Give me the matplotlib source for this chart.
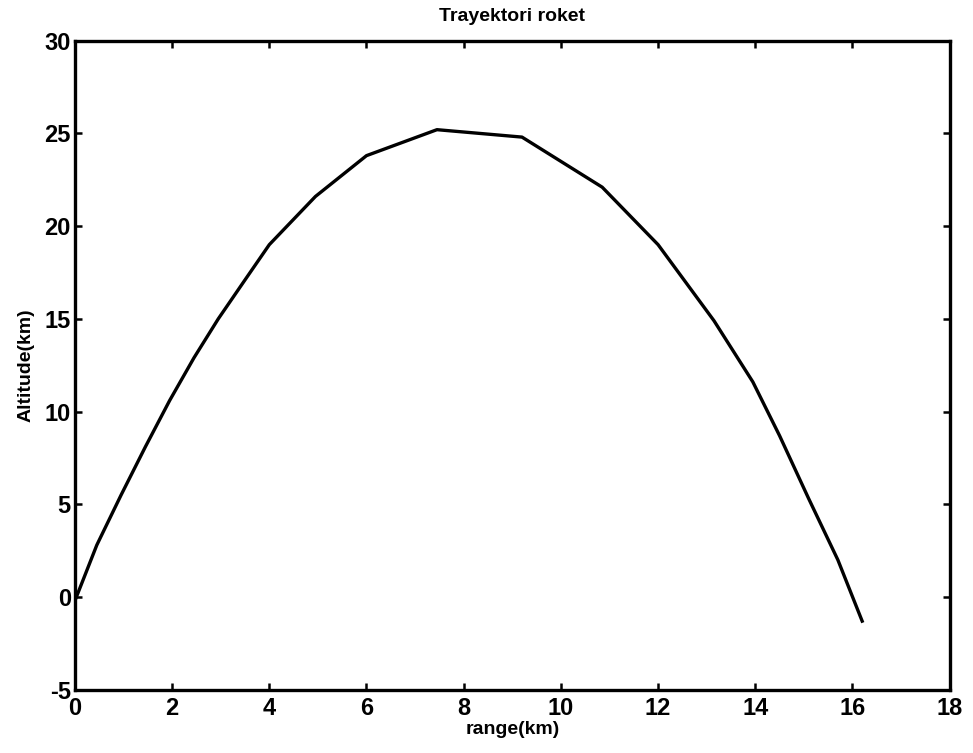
import matplotlib
matplotlib.use("Agg")
import matplotlib.pyplot as plt

range_km = [0.0, 0.45, 0.95, 1.45, 1.95, 2.45, 2.95, 3.5, 4.0, 4.95, 6.0, 7.45, 9.2, 10.85, 12.0, 13.15, 13.95, 14.5, 15.1, 15.7, 16.2]
altitude_km = [-0.2, 2.8, 5.5, 8.1, 10.6, 12.9, 15.0, 17.1, 19.0, 21.6, 23.8, 25.2, 24.8, 22.1, 19.0, 14.9, 11.6, 8.7, 5.3, 2.0, -1.3]
xticks = [0, 2, 4, 6, 8, 10, 12, 14, 16, 18]
yticks = [-5, 0, 5, 10, 15, 20, 25, 30]

plt.rcParams['font.family'] = ['Liberation Sans', 'DejaVu Sans']
plt.rcParams['font.weight'] = 'bold'
plt.rcParams['axes.unicode_minus'] = False

fig = plt.figure(figsize=(9.73, 7.53), dpi=100)
ax = fig.add_axes([0.077, 0.084, 0.899, 0.862])
ax.plot(range_km, altitude_km, color='black', linewidth=2.4)
ax.set_xlim(0, 18)
ax.set_ylim(-5, 30)
ax.set_xticks(xticks)
ax.set_yticks(yticks)
ax.tick_params(direction='in', length=5, width=1.8, top=True, right=True,
               labelsize=17)
ax.tick_params(axis='x', pad=5)
ax.tick_params(axis='y', pad=3)
for lab in ax.get_xticklabels() + ax.get_yticklabels():
    lab.set_fontweight('bold')
for s in ax.spines.values():
    s.set_linewidth(2.4)
ax.set_title('Trayektori roket', fontsize=14, fontweight='bold', pad=14)
ax.set_xlabel('range(km)', fontsize=14, fontweight='bold', labelpad=1)
ax.set_ylabel('Altitude(km)', fontsize=14, fontweight='bold', labelpad=7)
fig.savefig('out.png', dpi=100)
